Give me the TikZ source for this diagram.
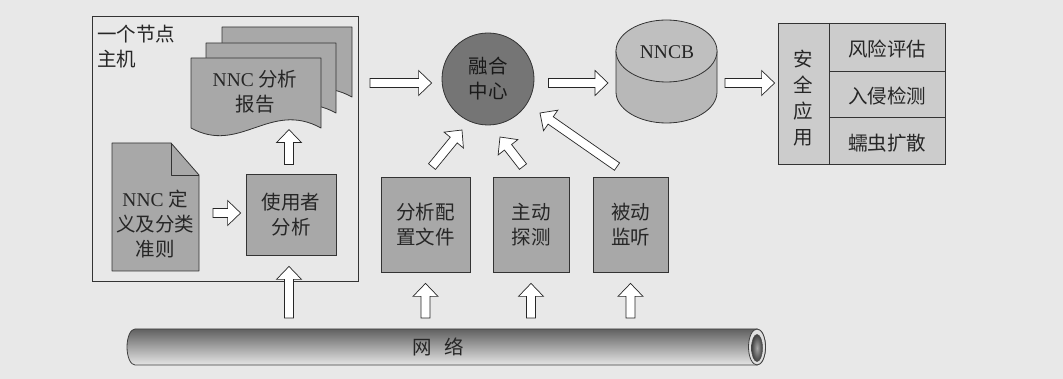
\documentclass[tikz,border=0pt]{standalone}
\usepackage{fontspec}
\setmainfont{Liberation Serif}
\newfontfamily\cjk{Noto Sans CJK SC}
\usetikzlibrary{calc}
\definecolor{bg}{gray}{0.91}
\definecolor{boxgray}{gray}{0.66}
\definecolor{fusegray}{gray}{0.46}
\definecolor{panelgray}{gray}{0.80}
\definecolor{cylgray}{gray}{0.72}
\definecolor{cyltop}{gray}{0.75}
\newcommand\dgtxt{\cjk\fontsize{19.5}{25}\selectfont}
\newcommand\lat[1]{{\rmfamily #1}}
\begin{document}
\begin{tikzpicture}[x=1pt,y=-1pt,
  line/.style={draw=black!80, line width=0.8pt},
  box/.style={line, fill=boxgray, inner sep=0pt, align=center, font=\dgtxt, text=black!85},
  lbl/.style={inner sep=0pt, align=center, font=\dgtxt, text=black!85},
  docstyle/.style={line, fill=boxgray, line join=round},
  barrow/.style={draw=black!85, fill=white, line width=0.7pt, line join=miter,
    to path={let \p1=(\tikztostart), \p2=(\tikztotarget),
      \n1={atan2(\y2-\y1,\x2-\x1)}, \n2={veclen(\x2-\x1,\y2-\y1)-13}
      in ($(\p1)+(\n1+90:4.5pt)$) -- ($(\p1)+(\n1:\n2)+(\n1+90:4.5pt)$)
      -- ($(\p1)+(\n1:\n2)+(\n1+90:12.5pt)$) -- (\p2)
      -- ($(\p1)+(\n1:\n2)+(\n1-90:12.5pt)$) -- ($(\p1)+(\n1:\n2)+(\n1-90:4.5pt)$)
      -- ($(\p1)+(\n1-90:4.5pt)$) -- cycle}}]
\fill[bg] (0,0) rectangle (1063,379);
\useasboundingbox (0,0) rectangle (1063,379);

% host box
\node[line, minimum width=266pt, minimum height=265pt, inner sep=0pt] (host) at (225,148.5) {};
\node[lbl, align=left, anchor=north west] (hostlbl) at (97,25) {一个节点\\主机};

% report stack
\foreach \s in {31,15,0}
  \draw[docstyle, shift={(\s,-\s)}] (191,58) -- (321,58) -- (321,128)
     .. controls (270,100) and (240,155) .. (191,128) -- cycle;
\node[lbl] (rep) at (255,92) {\lat{NNC} 分析\\报告};

% definition document
\draw[docstyle] (112,143) -- (171,143) -- (199,175) -- (199,271) -- (112,271) -- cycle;
\draw[line, line join=round] (171,143) -- (171,175) -- (199,175);
\node[lbl] (def) at (155,224) {\lat{NNC} 定\\义及分类\\准则};
\coordinate (defE) at (199,213);

% boxes
\node[box, minimum width=90pt, minimum height=81pt] (user) at (291,214.5) {使用者\\分析};
\node[box, minimum width=89pt, minimum height=95pt] (cfg) at (425.5,224.5) {分析配\\置文件};
\node[box, minimum width=76pt, minimum height=95pt] (act) at (531,224.5) {主动\\探测};
\node[box, minimum width=75pt, minimum height=95pt] (pas) at (630.5,224.5) {被动\\监听};

% fusion centre
\node[line, fill=fusegray, circle, minimum size=92pt, inner sep=0pt, align=center,
      font=\dgtxt, text=black!90] (fuse) at (488,79) {融合\\中心};

% NNCB cylinder
\draw[line, fill=cylgray] (616,51) -- (616,92)
   arc[start angle=180, end angle=360, x radius=50.5pt, y radius=31pt] -- (717,51) -- cycle;
\draw[line, fill=cyltop] (666.5,51) ellipse[x radius=50.5pt, y radius=31pt];
\node[lbl, font=\rmfamily\fontsize{19.5}{21}\selectfont] (nncb) at (667,52) {NNCB};
\coordinate (cylW) at (616,83);
\coordinate (cylE) at (717,83);

% security application panel
\node[line, fill=panelgray, minimum width=167pt, minimum height=141pt, inner sep=0pt] (sec) at (861.5,93.5) {};
\draw[line] (829,23) -- (829,164);
\draw[line] (829,71) -- (945,71);
\draw[line] (829,117) -- (945,117);
\node[lbl, font=\cjk\fontsize{19.5}{26}\selectfont] (secapp) at (803,98) {安\\全\\应\\用};
\node[lbl] (risk) at (887,49) {风险评估};
\node[lbl] (ids) at (887,96) {入侵检测};
\node[lbl] (worm) at (887,143) {蠕虫扩散};

% network tube
\draw[draw=black!75, line width=0.8pt, top color=black!62, bottom color=black!10]
  (135,329) -- (757,329) arc[start angle=90, end angle=-90, x radius=8.5pt, y radius=18pt]
  -- (135,365) arc[start angle=270, end angle=90, x radius=8pt, y radius=18pt] -- cycle;
\draw[draw=black!75, line width=0.8pt, fill=black!12] (757,347) ellipse[x radius=8.5pt, y radius=18pt];
\draw[draw=black!70, line width=0.5pt, inner color=black!35, outer color=black!75] (757,348) ellipse[x radius=5.5pt, y radius=13.5pt];
\node[lbl] (net) at (438,347) {网\hspace{13pt}络};
\coordinate (nettop) at (438,329);

% block arrows
\coordinate (a1s) at (370,83);
\draw[barrow] (a1s) to ($(fuse.west |- a1s)+(-10,0)$);
\draw[barrow] ($(fuse.east |- a1s)+(14,0)$) to ($(cylW)+(-8,0)$);
\draw[barrow] ($(cylE)+(8,0)$) to ($(sec.west |- cylE)+(-3,0)$);
\draw[barrow] ($(user.north)+(-2,-9)$) to ($(user.north)+(-2,-44)$);
\draw[barrow] ($(defE)+(14,0)$) to ($(user.west |- defE)+(-5,0)$);
\draw[barrow] ($(user.south |- nettop)+(-2,-11)$) to ($(user.south)+(-2,11)$);
\foreach \n in {cfg,act,pas}
  \draw[barrow] ($(\n.south |- nettop)+(0,-11)$) to ($(\n.south)+(0,11)$);
\draw[barrow] ($(cfg.north)+(6.5,-10)$) to ($(fuse)+(-26,51)$);
\draw[barrow] ($(act.north)+(-8,-10)$) to ($(fuse)+(12,58)$);
\draw[barrow] ($(pas.north)+(-13.5,-10)$) to ($(fuse)+(52,34)$);
\end{tikzpicture}
\end{document}
